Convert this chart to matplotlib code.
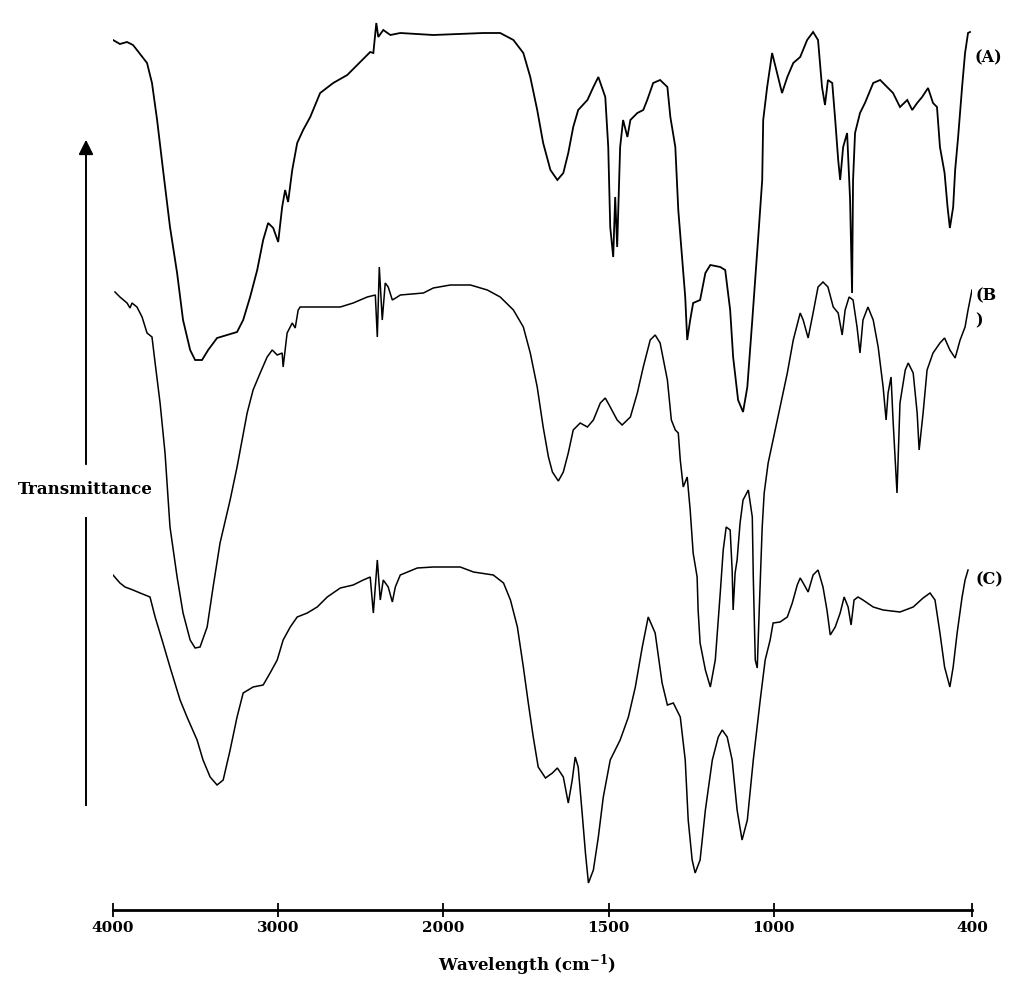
import numpy as np
import matplotlib
matplotlib.use("Agg")
import matplotlib.pyplot as plt

plt.rcParams['font.family'] = ['DejaVu Serif']
plt.rcParams['mathtext.fontset'] = 'dejavuserif'

# ---------------- data (wavenumber cm-1, transmittance a.u., offset spectra) ----------------
wn_A = [4000, 3958, 3915, 3879, 3855, 3794, 3764, 3733, 3697, 3655, 3612, 3576, 3533, 3503, 3461,
        3424, 3370, 3309, 3249, 3212, 3170, 3127, 3091, 3061, 3030, 3000, 2976, 2958, 2940, 2915,
        2885, 2849, 2806, 2746, 2667, 2582, 2503, 2443, 2424, 2406, 2394, 2364, 2321, 2261, 2061,
        1879, 1828, 1788, 1758, 1737, 1716, 1698, 1676, 1655, 1637, 1622, 1607, 1592, 1564, 1546,
        1531, 1510, 1501, 1495, 1486, 1480, 1474, 1465, 1456, 1443, 1434, 1413, 1395, 1383, 1365,
        1344, 1322, 1313, 1298, 1289, 1277, 1268, 1262, 1253, 1244, 1223, 1207, 1192, 1162, 1147,
        1132, 1123, 1108, 1093, 1080, 1065, 1047, 1035, 1032, 1020, 1005, 990, 975, 959, 941,
        920, 899, 881, 866, 854, 845, 836, 823, 814, 805, 799, 790, 778, 769, 763,
        760, 754, 739, 724, 699, 678, 657, 639, 618, 596, 581, 566, 551, 533, 518,
        506, 497, 483, 474, 467, 457, 451, 442, 430, 421, 412, 406]
tr_A = [870, 866, 868, 865, 860, 847, 827, 790, 740, 683, 637, 590, 560, 550, 550,
        560, 572, 575, 578, 590, 613, 640, 670, 687, 682, 668, 703, 720, 708, 740,
        767, 780, 793, 817, 827, 835, 848, 858, 857, 887, 873, 880, 875, 877, 875,
        877, 877, 870, 857, 833, 800, 767, 740, 730, 737, 757, 783, 800, 810, 823,
        833, 813, 763, 683, 653, 713, 663, 763, 790, 773, 790, 797, 800, 810, 827,
        830, 823, 793, 763, 700, 650, 613, 570, 590, 607, 610, 637, 645, 643, 640,
        600, 553, 510, 498, 523, 590, 673, 730, 790, 823, 857, 837, 817, 833, 847,
        853, 870, 878, 870, 823, 805, 830, 827, 790, 750, 730, 763, 777, 710, 617,
        730, 777, 797, 807, 827, 830, 823, 817, 803, 810, 800, 807, 813, 822, 807,
        803, 763, 737, 703, 682, 703, 740, 773, 823, 857, 877, 878]

wn_B = [3988, 3958, 3915, 3897, 3885, 3855, 3824, 3794, 3764, 3745, 3715, 3685, 3655, 3612, 3576,
        3533, 3503, 3473, 3430, 3394, 3352, 3291, 3249, 3188, 3152, 3109, 3067, 3036, 3006, 2976,
        2970, 2946, 2915, 2897, 2879, 2867, 2624, 2546, 2461, 2412, 2400, 2388, 2370, 2352, 2334,
        2309, 2279, 2261, 2121, 2061, 1979, 1918, 1867, 1828, 1788, 1758, 1737, 1716, 1698, 1682,
        1670, 1652, 1637, 1622, 1607, 1586, 1564, 1546, 1525, 1510, 1495, 1474, 1459, 1434, 1413,
        1395, 1374, 1359, 1344, 1322, 1310, 1298, 1289, 1283, 1274, 1262, 1253, 1244, 1232, 1229,
        1223, 1207, 1192, 1177, 1162, 1153, 1144, 1132, 1126, 1123, 1117, 1111, 1102, 1093, 1077,
        1065, 1062, 1056, 1050, 1044, 1035, 1029, 1017, 981, 959, 941, 920, 911, 896, 881,
        866, 851, 836, 820, 805, 793, 784, 772, 760, 748, 739, 730, 715, 699, 684,
        669, 660, 654, 645, 639, 627, 618, 602, 593, 578, 566, 560, 548, 536, 518,
        497, 483, 467, 451, 436, 421, 412, 400]
tr_B = [618, 613, 607, 602, 607, 603, 593, 577, 573, 547, 507, 457, 383, 333, 297,
        270, 262, 263, 283, 323, 367, 410, 443, 497, 520, 537, 553, 560, 555, 557,
        543, 577, 587, 582, 600, 603, 603, 607, 613, 615, 573, 643, 590, 627, 623,
        610, 613, 615, 617, 622, 625, 625, 620, 613, 600, 583, 557, 523, 483, 453,
        438, 429, 438, 457, 480, 487, 483, 490, 507, 512, 503, 490, 485, 493, 517,
        543, 570, 575, 567, 530, 490, 480, 477, 450, 423, 433, 400, 357, 333, 300,
        267, 240, 223, 250, 317, 360, 383, 380, 340, 300, 337, 350, 387, 410, 420,
        393, 333, 250, 242, 300, 383, 417, 447, 503, 537, 570, 597, 590, 572, 597,
        623, 628, 623, 603, 597, 575, 600, 613, 610, 583, 557, 590, 603, 590, 563,
        523, 490, 517, 533, 490, 417, 507, 540, 547, 537, 497, 460, 497, 540, 557,
        567, 572, 560, 552, 570, 583, 600, 620]

wn_C = [4000, 3958, 3927, 3879, 3836, 3776, 3745, 3703, 3655, 3594, 3552, 3491, 3455, 3412, 3370,
        3333, 3291, 3249, 3212, 3152, 3091, 3049, 3006, 2970, 2927, 2885, 2824, 2764, 2703, 2624,
        2546, 2485, 2443, 2424, 2400, 2382, 2364, 2334, 2309, 2291, 2261, 2158, 2061, 1949, 1909,
        1849, 1818, 1797, 1776, 1758, 1743, 1728, 1713, 1691, 1670, 1655, 1637, 1622, 1610, 1601,
        1592, 1580, 1570, 1561, 1546, 1531, 1516, 1495, 1465, 1440, 1419, 1398, 1380, 1359, 1338,
        1322, 1304, 1283, 1268, 1259, 1247, 1238, 1223, 1207, 1186, 1168, 1156, 1141, 1126, 1111,
        1096, 1080, 1062, 1041, 1026, 1011, 1002, 981, 959, 944, 929, 920, 911, 896, 881,
        866, 851, 839, 829, 814, 799, 787, 775, 766, 757, 745, 730, 699, 669, 618,
        578, 548, 527, 512, 497, 483, 467, 457, 445, 430, 421, 412]
tr_C = [335, 327, 323, 320, 317, 313, 293, 270, 243, 210, 193, 170, 150, 133, 125,
        130, 160, 193, 217, 223, 225, 237, 250, 270, 283, 293, 297, 303, 313, 322,
        325, 330, 333, 297, 350, 310, 330, 323, 308, 323, 335, 342, 343, 343, 338,
        335, 327, 310, 283, 243, 207, 173, 143, 132, 137, 142, 133, 107, 130, 153,
        143, 97, 57, 27, 40, 73, 113, 150, 170, 193, 223, 263, 293, 277, 227,
        205, 207, 193, 150, 90, 50, 37, 50, 100, 150, 173, 180, 173, 150, 100,
        70, 90, 150, 210, 250, 270, 287, 288, 293, 307, 325, 332, 327, 318, 335,
        340, 323, 300, 275, 283, 297, 313, 303, 285, 310, 313, 310, 303, 300, 298,
        303, 312, 317, 310, 277, 243, 223, 243, 277, 313, 330, 340]

tick_values = [4000, 3000, 2000, 1500, 1000, 400]
tick_labels = ['4000', '3000', '2000', '1500', '1000', '400']
series_names = ['(A)', '(B\n)', '(C)']

# ---------------- figure ----------------
W, H = 1024, 986
fig = plt.figure(figsize=(W / 100, H / 100), dpi=100)
ax = fig.add_axes([113 / W, (H - 910) / H, 859 / W, 910 / H])


def fwd(w):
    w = np.asarray(w, dtype=float)
    return np.where(w <= 2000, w, 2000 + (w - 2000) / 2.0)


def inv(u):
    u = np.asarray(u, dtype=float)
    return np.where(u <= 2000, u, 2000 + (u - 2000) * 2.0)


ax.set_xscale('function', functions=(fwd, inv))

for wn, tr, lw in [(wn_A, tr_A, 1.3), (wn_B, tr_B, 1.1), (wn_C, tr_C, 1.1)]:
    ax.plot(wn, tr, color='black', lw=lw, solid_joinstyle='miter')

ax.set_xlim(4000, 400)
ax.set_ylim(0, 910)
for s in ['top', 'left', 'right']:
    ax.spines[s].set_visible(False)
ax.spines['bottom'].set_linewidth(2.0)
ax.set_yticks([])
ax.set_xticks(tick_values)
ax.set_xticklabels(tick_labels, fontsize=11, fontweight='bold')
ax.xaxis.set_minor_locator(matplotlib.ticker.NullLocator())
ax.tick_params(axis='x', direction='inout', length=10, width=1.3, pad=3)

# series labels
label_pos = [(391, 852), (389, 602), (389, 330)]
for name, (xw, yt) in zip(series_names, label_pos):
    ax.text(xw, yt, name, fontsize=11.5, fontweight='bold', ha='left', va='center',
            clip_on=False, linespacing=1.6)

# axis titles
fig.text(527 / W, 1 - 965 / H, r'Wavelength (cm$^{\mathbf{-1}}$)', fontsize=12,
         fontweight='bold', ha='center', va='center')
fig.text(85 / W, 1 - 490 / H, 'Transmittance', fontsize=12, fontweight='bold',
         ha='center', va='center')

# transmittance arrow
ax_x = 86 / W
fig.add_artist(matplotlib.lines.Line2D([ax_x, ax_x], [1 - 805 / H, 1 - 518 / H],
                                       transform=fig.transFigure, color='black', lw=1.4))
fig.add_artist(matplotlib.patches.FancyArrowPatch((ax_x, 1 - 467 / H), (ax_x, 1 - 137 / H),
                                                  transform=fig.transFigure,
                                                  arrowstyle='-|>', mutation_scale=22,
                                                  color='black', lw=1.4))

fig.savefig('out.png', dpi=100, facecolor='white')
